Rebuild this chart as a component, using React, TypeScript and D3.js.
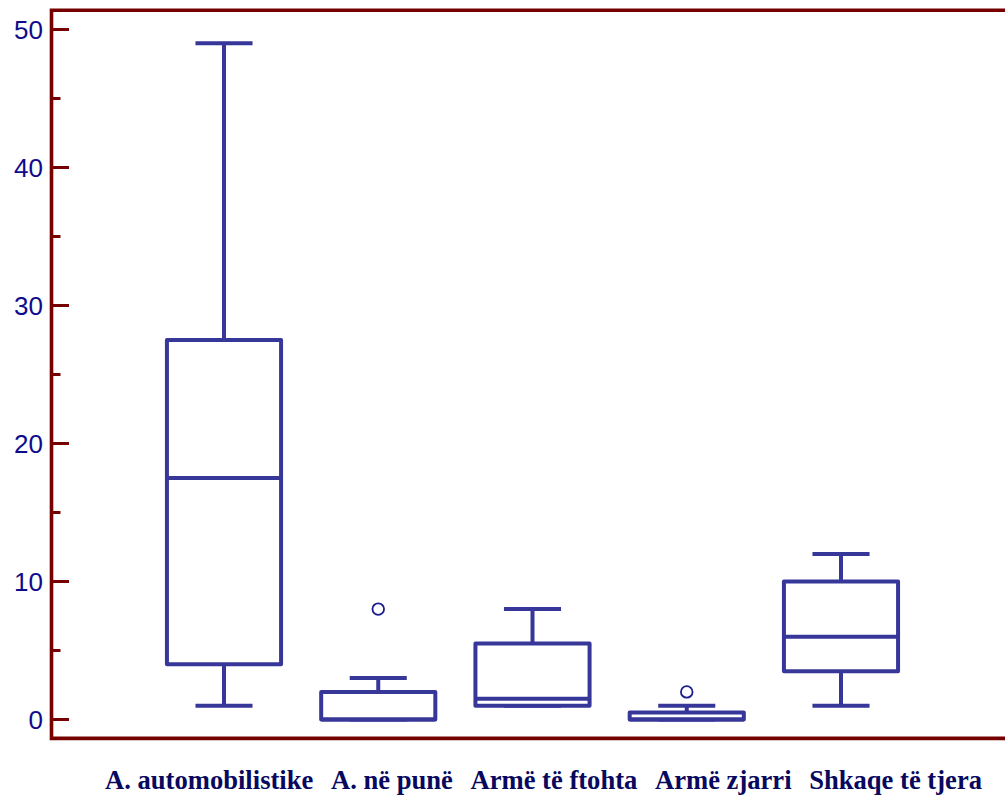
import React, { useEffect, useRef } from "react";
import * as d3 from "d3";

// Box-plot summaries per category
const categories = [
  "A. automobilistike",
  "A. në punë",
  "Armë të ftohta",
  "Armë zjarri",
  "Shkaqe të tjera",
];
const whiskerLow = [1, 0, 1, 0, 1];
const q1 = [4, 0, 1, 0, 3.5];
const median = [17.5, 0, 1.5, 0, 6];
const q3 = [27.5, 2, 5.5, 0.5, 10];
const whiskerHigh = [49, 3, 8, 1, 12];
const outliers: number[][] = [[], [8], [], [2], []];

const majorTicks = [0, 10, 20, 30, 40, 50];
const minorTicks = [5, 15, 25, 35, 45];

const W = 1005;
const H = 797;
const AXIS = "#760000";
const BOX = "#37379a";
const TICK_TEXT = "#0c0c8c";
const CAT_TEXT = "#08085e";

export default function App() {
  const ref = useRef<SVGSVGElement | null>(null);

  useEffect(() => {
    const svg = d3.select(ref.current);
    svg.selectAll("*").remove();

    const y = d3.scaleLinear().domain([0, 50]).range([719.5, 29.5]);
    const x = d3.scalePoint<string>().domain(categories).range([224, 841]);
    const step = x.step();
    const boxW = step * 0.74;
    const capW = boxW * 0.5;
    const axisX = 51.5;

    // frame: left axis, top and bottom rules running off to the right
    const yTop = y(51.4);
    const yBot = y(-1.37);
    const frame = svg.append("g").attr("fill", "none").attr("stroke", AXIS).attr("stroke-width", 3.6);
    frame.append("path").attr("d", `M${W + 10},${yTop}H${axisX}V${yBot}H${W + 10}`);

    // y ticks
    const tg = svg.append("g").attr("stroke", AXIS).attr("stroke-width", 3);
    tg.selectAll("line.major")
      .data(majorTicks)
      .join("line")
      .attr("x1", axisX)
      .attr("x2", axisX + 17.5)
      .attr("y1", (d) => y(d))
      .attr("y2", (d) => y(d));
    tg.selectAll("line.minor")
      .data(minorTicks)
      .join("line")
      .attr("x1", axisX)
      .attr("x2", axisX + 9)
      .attr("y1", (d) => y(d))
      .attr("y2", (d) => y(d));

    svg
      .append("g")
      .selectAll("text")
      .data(majorTicks)
      .join("text")
      .attr("x", 43)
      .attr("y", (d) => y(d))
      .attr("dy", "0.36em")
      .attr("text-anchor", "end")
      .attr("font-family", "Liberation Sans, Arial, sans-serif")
      .attr("font-size", 26)
      .attr("fill", TICK_TEXT)
      .text((d) => String(d));

    // boxes
    const boxes = svg
      .append("g")
      .attr("fill", "none")
      .attr("stroke", BOX)
      .attr("stroke-width", 4)
      .attr("stroke-linejoin", "round");

    categories.forEach((c, i) => {
      const cx = x(c)!;
      const g = boxes.append("g");
      // whiskers
      g.append("line").attr("x1", cx).attr("x2", cx).attr("y1", y(q3[i])).attr("y2", y(whiskerHigh[i]));
      g.append("line").attr("x1", cx).attr("x2", cx).attr("y1", y(q1[i])).attr("y2", y(whiskerLow[i]));
      g.append("line")
        .attr("x1", cx - capW / 2)
        .attr("x2", cx + capW / 2)
        .attr("y1", y(whiskerHigh[i]))
        .attr("y2", y(whiskerHigh[i]));
      g.append("line")
        .attr("x1", cx - capW / 2)
        .attr("x2", cx + capW / 2)
        .attr("y1", y(whiskerLow[i]))
        .attr("y2", y(whiskerLow[i]));
      // box and median
      g.append("rect")
        .attr("x", cx - boxW / 2)
        .attr("y", y(q3[i]))
        .attr("width", boxW)
        .attr("height", y(q1[i]) - y(q3[i]))
        .attr("fill", "white");
      g.append("line")
        .attr("x1", cx - boxW / 2)
        .attr("x2", cx + boxW / 2)
        .attr("y1", y(median[i]))
        .attr("y2", y(median[i]));
      // outliers
      g.selectAll("circle")
        .data(outliers[i])
        .join("circle")
        .attr("cx", cx)
        .attr("cy", (d) => y(d))
        .attr("r", 5.8)
        .attr("stroke", "#1c1c90")
        .attr("stroke-width", 1.8)
        .attr("fill", "white");
    });

    // category labels, spread evenly across the bottom
    const labels = svg
      .append("g")
      .selectAll("text")
      .data(categories)
      .join("text")
      .attr("y", 789)
      .attr("font-family", "Liberation Serif, Times New Roman, serif")
      .attr("font-weight", "bold")
      .attr("font-size", 26.6)
      .attr("fill", CAT_TEXT)
      .text((d) => d);

    const widths: number[] = [];
    labels.each(function () {
      widths.push((this as SVGTextElement).getComputedTextLength());
    });
    const left = 105;
    const right = 982;
    const gap = (right - left - d3.sum(widths)) / (categories.length - 1);
    let cursor = left;
    labels.attr("x", (_d, i) => {
      const pos = cursor;
      cursor += widths[i] + gap;
      return pos;
    });
  }, []);

  return (
    <svg
      ref={ref}
      width={W}
      height={H}
      style={{ position: "absolute", left: 0, top: 0, background: "white" }}
    />
  );
}
